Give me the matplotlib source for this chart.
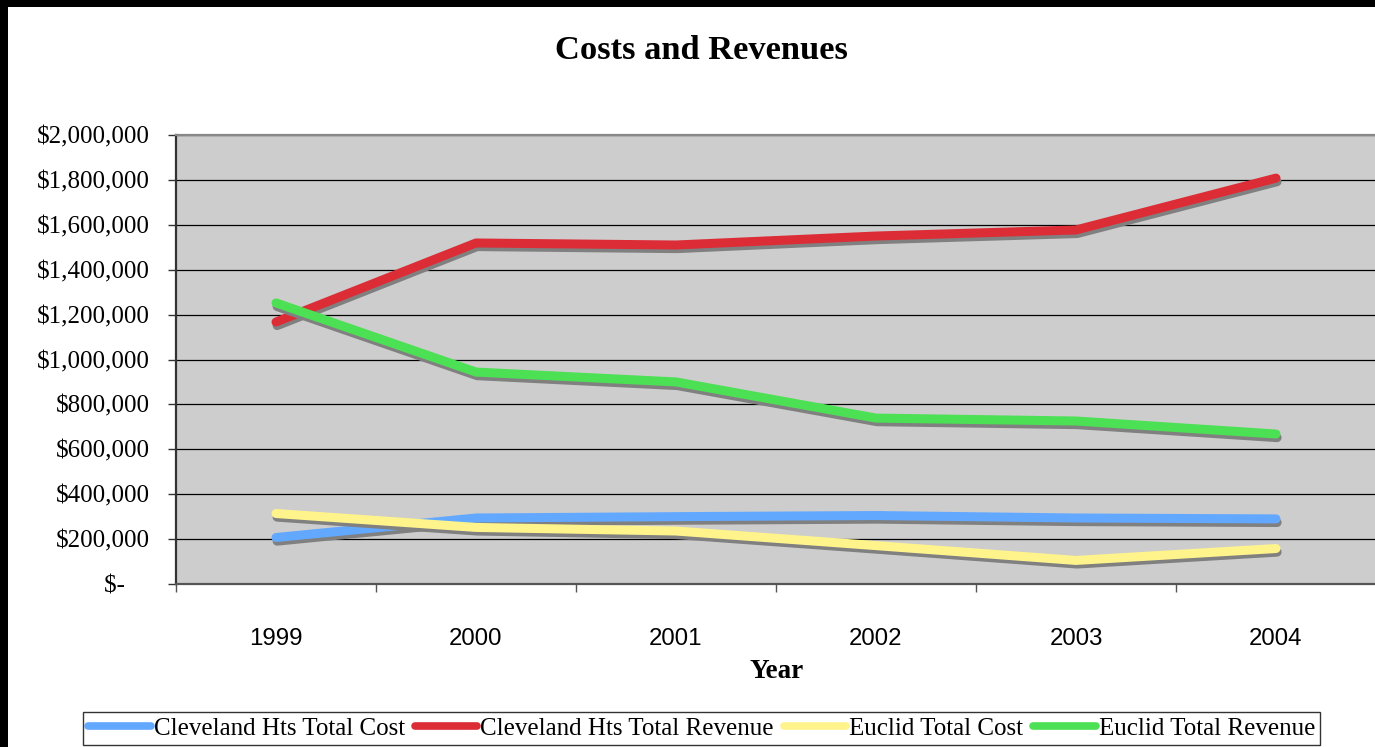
import matplotlib
matplotlib.use("Agg")
import matplotlib.pyplot as plt
import matplotlib.patheffects as pe
from matplotlib.patches import Rectangle

years = ["1999", "2000", "2001", "2002", "2003", "2004"]
cleveland_cost = [207000, 294000, 300000, 305000, 294000, 290000]
cleveland_revenue = [1167000, 1519000, 1510000, 1550000, 1577000, 1808000]
euclid_cost = [314000, 252000, 236000, 171000, 105000, 158000]
euclid_revenue = [1252000, 944000, 900000, 739000, 726000, 668000]

series_names = ["Cleveland Hts Total Cost", "Cleveland Hts Total Revenue",
                "Euclid Total Cost", "Euclid Total Revenue"]
series_values = [cleveland_cost, cleveland_revenue, euclid_cost, euclid_revenue]
series_colors = ["#63A8FF", "#DC2D37", "#FFF38C", "#4CE054"]

y_ticks = [0, 200000, 400000, 600000, 800000, 1000000, 1200000,
           1400000, 1600000, 1800000, 2000000]
y_labels = ["$-    ", "$200,000", "$400,000", "$600,000", "$800,000",
            "$1,000,000", "$1,200,000", "$1,400,000", "$1,600,000",
            "$1,800,000", "$2,000,000"]

W, H = 1375, 747
fig = plt.figure(figsize=(W / 100, H / 100), dpi=100)
fig.patch.set_facecolor("white")

# black frame strips on the left and top
fig.patches.append(Rectangle((0, 0), 8 / W, 1, transform=fig.transFigure,
                             facecolor="black", edgecolor="none"))
fig.patches.append(Rectangle((0, 1 - 7 / H), 1, 7 / H, transform=fig.transFigure,
                             facecolor="black", edgecolor="none"))

ax = fig.add_axes([176 / W, (H - 584) / H, (1376 - 176) / W, (584 - 135) / H])
ax.set_facecolor("#CDCDCD")

x = list(range(len(years)))
shadow = [pe.SimpleLineShadow(offset=(0.8, -2.6), shadow_color="#808080", alpha=1.0),
          pe.Normal()]
handles = []
for name, vals, col in zip(series_names, series_values, series_colors):
    line, = ax.plot(x, vals, color=col, lw=6.5, solid_capstyle="round",
                    solid_joinstyle="round", label=name, path_effects=shadow,
                    zorder=3)
    handles.append(line)

ax.set_xlim(-0.5, len(years) - 0.5)
ax.set_ylim(0, 2000000)

ax.set_yticks(y_ticks)
ax.set_yticklabels(y_labels, fontfamily="Liberation Serif", fontsize=18)
ax.tick_params(axis="y", direction="out", length=6, width=1, pad=13,
               color="#333333")
ax.yaxis.grid(True, color="black", lw=0.9)
ax.set_axisbelow(True)

ax.set_xticks(x)
ax.set_xticklabels(years, fontfamily="Liberation Sans", fontsize=17.3)
ax.set_xticks([i - 0.5 for i in range(len(years) + 1)], minor=True)
ax.tick_params(axis="x", which="major", length=0, pad=32)
ax.tick_params(axis="x", which="minor", direction="out", length=6, width=1,
               color="#555555")

ax.spines["left"].set_color("#333333")
ax.spines["left"].set_linewidth(1.6)
ax.spines["bottom"].set_color("#555555")
ax.spines["bottom"].set_linewidth(1.6)
ax.spines["top"].set_color("#888888")
ax.spines["top"].set_linewidth(1.6)
ax.spines["right"].set_color("#999999")

cx = 701.5 / W
fig.text(cx, (H - 59) / H, "Costs and Revenues", ha="center", va="baseline",
         fontfamily="Liberation Serif", fontweight="bold", fontsize=24.8)
fig.text(777 / W, (H - 678) / H, "Year", ha="center", va="baseline",
         fontfamily="Liberation Serif", fontweight="bold", fontsize=19.5)

leg = fig.legend(handles=handles, loc="center", ncol=4,
                 bbox_to_anchor=(cx, (H - 728.5) / H),
                 prop={"family": "Liberation Serif", "size": 18},
                 frameon=True, fancybox=False, edgecolor="black",
                 handlelength=2.5, handletextpad=0.12, columnspacing=0.4,
                 borderpad=0.2, borderaxespad=0)
leg.get_frame().set_linewidth(1.0)
for lh in leg.get_lines():
    lh.set_path_effects([])
    lh.set_linewidth(5.5)

fig.savefig("out.png", dpi=100)
